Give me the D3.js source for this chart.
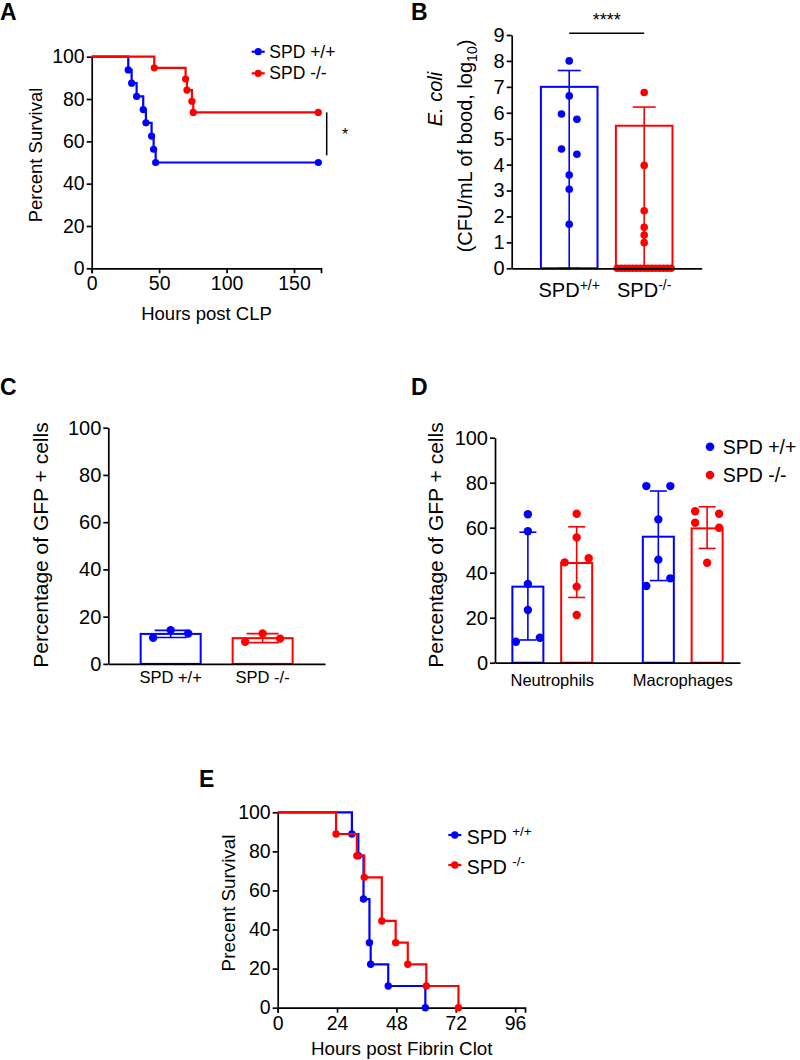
<!DOCTYPE html>
<html><head><meta charset="utf-8">
<script src="https://cdn.jsdelivr.net/npm/d3@7"></script>
<style>
body{margin:0;background:#fff}
</style></head><body><svg id="c" width="800" height="1060"></svg>
<script>
// ================= DATA =================
const seriesNames = ["SPD +/+", "SPD -/-"];
// Panel A: survival after CLP
const aTicksX = [0, 50, 100, 150];
const aTicksY = [0, 20, 40, 60, 80, 100];
const aWtTime = [27.1, 29.6, 33.3, 38.2, 40.2, 44.4, 45.9, 47.4, 168];
const aWtSurv = [93.75, 87.5, 81.25, 75, 68.75, 62.5, 56.25, 50, 50];
const aKoTime = [46.4, 69.6, 70.6, 74.3, 75.3, 168];
const aKoSurv = [94.74, 89.47, 84.21, 78.95, 73.68, 73.68];
const aSigRange = [73.7, 53.4];
// Panel B: E. coli CFU
const bCats = ["+/+", "-/-"];
const bTicksY = [0, 1, 2, 3, 4, 5, 6, 7, 8, 9];
const bMeans = [7.0, 5.5];
const bErrTop = [7.63, 6.22];
const bErrLow = [0, 0];
const bWtVals = [8.0, 6.65, 5.95, 5.75, 4.6, 4.4, 3.6, 3.05, 1.7];
const bWtCols = [0, 0, -2, 2, -2, 2, 0, 0, 0];
const bKoVals = [6.78, 3.97, 2.22, 1.58, 1.28, 0.99, 0, 0, 0, 0, 0, 0, 0, 0, 0, 0, 0, 0, 0, 0, 0];
const bKoCols = [0, 0, 0, 0, 0, 0, -7, -6, -5, -4, -3, -2, -1, 0, 1, 2, 3, 4, 5, 6, 7];
// Panel C: GFP+ cells
const cCats = ["SPD +/+", "SPD -/-"];
const cTicksY = [0, 20, 40, 60, 80, 100];
const cMeans = [12.7, 10.9];
const cSd = [1.5, 1.9];
const cWtVals = [11.1, 14.3, 12.9];
const cKoVals = [9.4, 12.9, 10.7];
const cCols = [-1, 0, 1];
// Panel D: GFP+ by cell type
const dGroups = ["Neutrophils", "Macrophages"];
const dTicksY = [0, 20, 40, 60, 80, 100];
const dWtMeans = [33.8, 56.0];
const dWtLow = [10.1, 36.5];
const dWtHigh = [58.0, 76.3];
const dKoMeans = [44.3, 59.7];
const dKoLow = [29.0, 50.8];
const dKoHigh = [60.4, 69.3];
const dWtNeuVals = [66.0, 58.4, 35.0, 23.4, 9.3, 11.1];
const dWtNeuCols = [0, 0, 0, 0, -1, 1];
const dWtMacVals = [78.5, 78.5, 63.7, 45.8, 34.1, 37.5];
const dWtMacCols = [-1, 1, 0, 0, -1, 1];
const dKoNeuVals = [66.2, 55.7, 44.6, 46.4, 33.8, 21.2];
const dKoNeuCols = [0, 0, -1, 1, 0, 0];
const dKoMacVals = [67.3, 66.2, 62.2, 60.0, 44.4];
const dKoMacCols = [-1, 1, -1, 1, 0];
// Panel E: survival after fibrin clot
const eTicksX = [0, 24, 48, 72, 96];
const eTicksY = [0, 20, 40, 60, 80, 100];
const eWtTime = [30, 32.6, 34.7, 37.1, 37.6, 44.7, 59.7];
const eWtSurv = [88.9, 77.8, 55.6, 33.3, 22.2, 11.1, 0];
const eKoTime = [23.6, 32, 35, 42.1, 47.7, 52.6, 60.1, 73.1];
const eKoSurv = [88.9, 77.8, 66.7, 44.4, 33.3, 22.2, 11.1, 0];

// ================= STYLE =================
const FONT = '"Liberation Sans", Arial, Helvetica, sans-serif';
const BLUE = "#0000ff", RED = "#ff0000";
const svg = d3.select("#c");

function styleAxis(g, fs) {
  g.attr("font-family", FONT).attr("font-size", fs);
  g.selectAll("path,line").attr("stroke", "#000").attr("stroke-width", 1.7);
  g.selectAll("text").attr("fill", "#000");
}
function yAxis(scale, ticks, x, fs) {
  const g = svg.append("g").attr("transform", `translate(${x},0)`)
    .call(d3.axisLeft(scale).tickValues(ticks).tickSize(5).tickPadding(2).tickSizeOuter(0));
  styleAxis(g, fs);
  return g;
}
function xAxis(scale, ticks, y, fs, tsize) {
  const ax = d3.axisBottom(scale).tickSizeOuter(0).tickSize(tsize).tickPadding(3);
  if (ticks) ax.tickValues(ticks); else ax.tickFormat("");
  const g = svg.append("g").attr("transform", `translate(0,${y})`).call(ax);
  styleAxis(g, fs);
  return g;
}
function txt(x, y, s, fs, opts = {}) {
  const t = svg.append("text").attr("x", x).attr("y", y).text(s)
    .attr("font-family", FONT).attr("font-size", fs).attr("fill", "#000")
    .attr("text-anchor", opts.anchor || "start");
  if (opts.weight) t.attr("font-weight", opts.weight);
  if (opts.rotate) t.attr("transform", `rotate(-90,${x},${y})`);
  if (opts.style) t.attr("font-style", opts.style);
  return t;
}
function survival(x, y, times, surv, color, r) {
  const pts = [[0, 100]].concat(times.map((t, i) => [t, surv[i]]));
  svg.append("path").attr("d", d3.line().x(d => x(d[0])).y(d => y(d[1])).curve(d3.curveStepAfter)(pts))
    .attr("fill", "none").attr("stroke", color).attr("stroke-width", 2.2);
  svg.append("g").selectAll("circle").data(times).join("circle")
    .attr("cx", d => x(d)).attr("cy", (d, i) => y(surv[i])).attr("r", r).attr("fill", color);
}
function legendLine(x, y, color, r) {
  svg.append("line").attr("x1", x).attr("x2", x + 13).attr("y1", y).attr("y2", y)
    .attr("stroke", color).attr("stroke-width", 2.2);
  svg.append("circle").attr("cx", x + 6.5).attr("cy", y).attr("r", r).attr("fill", color);
}
function bar(cx, w, y, mean, color, sw) {
  svg.append("rect").attr("x", cx - w / 2).attr("y", y(mean)).attr("width", w)
    .attr("height", y(0) - y(mean)).attr("fill", "none").attr("stroke", color).attr("stroke-width", sw);
}
function errBar(cx, y, lo, hi, cap, color, showLow) {
  svg.append("line").attr("x1", cx).attr("x2", cx).attr("y1", y(lo)).attr("y2", y(hi))
    .attr("stroke", color).attr("stroke-width", 1.6);
  svg.append("line").attr("x1", cx - cap / 2).attr("x2", cx + cap / 2).attr("y1", y(hi)).attr("y2", y(hi))
    .attr("stroke", color).attr("stroke-width", 1.6);
  if (showLow) svg.append("line").attr("x1", cx - cap / 2).attr("x2", cx + cap / 2).attr("y1", y(lo)).attr("y2", y(lo))
    .attr("stroke", color).attr("stroke-width", 1.6);
}
function dots(cx, y, vals, cols, step, r, color) {
  svg.append("g").selectAll("circle").data(vals).join("circle")
    .attr("cx", (d, i) => cx + cols[i] * step).attr("cy", d => y(d)).attr("r", r).attr("fill", color);
}

// ================= PANEL A =================
{
  const x = d3.scaleLinear().domain([0, 170]).range([91.7, 321]);
  const y = d3.scaleLinear().domain([0, 100]).range([268.3, 56.7]);
  xAxis(x, aTicksX, 268.3, 19.5, 5);
  yAxis(y, aTicksY, 91.7, 19.5);
  survival(x, y, aWtTime, aWtSurv, BLUE, 3.6);
  survival(x, y, aKoTime, aKoSurv, RED, 3.6);
  svg.append("line").attr("x1", 326.7).attr("x2", 326.7).attr("y1", y(aSigRange[0])).attr("y2", y(aSigRange[1]))
    .attr("stroke", "#000").attr("stroke-width", 1.5);
  txt(345, 140, "*", 16, { anchor: "middle" });
  legendLine(251.7, 51.7, BLUE, 3.6);
  txt(269.3, 57.6, seriesNames[0], 17.5);
  legendLine(251.7, 73.3, RED, 3.6);
  txt(269.3, 79.2, seriesNames[1], 17.5);
  txt(41.7, 155, "Percent Survival", 18.5, { anchor: "middle", rotate: true });
  txt(206.5, 320, "Hours post CLP", 18.5, { anchor: "middle" });
  txt(0, 20, "A", 23, { weight: "bold" });
}

// ================= PANEL B =================
{
  const y = d3.scaleLinear().domain([0, 9]).range([268.3, 35]);
  const x = d3.scalePoint().domain(bCats).range([511.7, 701.7]).padding(0.767);
  const w = 56.6;
  bCats.forEach((c, i) => {
    const col = i === 0 ? BLUE : RED;
    bar(x(c), w, y, bMeans[i], col, 2);
    errBar(x(c), y, bErrLow[i], bErrTop[i], 23, col, true);
  });
  dots(x(bCats[0]), y, bWtVals, bWtCols, 3.85, 3.8, BLUE);
  dots(x(bCats[1]), y, bKoVals, bKoCols, 3.85, 3.8, RED);
  xAxis(x, null, 268.3, 18, 0);
  yAxis(y, bTicksY, 511.7, 20);
  bCats.forEach(c => {
    const t = txt(x(c), 296.7, "SPD", 20, { anchor: "middle" });
    t.append("tspan").attr("dy", -7).attr("font-size", 14).text(c);
  });
  svg.append("line").attr("x1", x(bCats[0])).attr("x2", x(bCats[1])).attr("y1", 33.3).attr("y2", 33.3)
    .attr("stroke", "#000").attr("stroke-width", 1.6);
  txt((x(bCats[0]) + x(bCats[1])) / 2, 26, "****", 18, { anchor: "middle" });
  txt(442, 99, "E. coli", 20, { anchor: "middle", rotate: true, style: "italic" });
  const t2 = txt(472, 146, "(CFU/mL of bood, log", 20, { anchor: "middle", rotate: true });
  t2.append("tspan").attr("dy", 5).attr("font-size", 14).text("10");
  t2.append("tspan").attr("dy", -5).text(")");
  txt(411, 20, "B", 23, { weight: "bold" });
}

// ================= PANEL C =================
{
  const y = d3.scaleLinear().domain([0, 100]).range([663.9, 427.7]);
  const x = d3.scalePoint().domain(cCats).range([108.3, 325]).padding(0.678);
  const w = 60;
  const vals = [cWtVals, cKoVals];
  cCats.forEach((c, i) => {
    const col = i === 0 ? BLUE : RED;
    bar(x(c), w, y, cMeans[i], col, 2);
    errBar(x(c), y, cMeans[i] - cSd[i], cMeans[i] + cSd[i], 32, col, true);
    dots(x(c), y, vals[i], cCols, 17.5, 4.2, col);
  });
  xAxis(x, null, 663.9, 16, 0);
  yAxis(y, cTicksY, 108.3, 20);
  cCats.forEach(c => txt(x(c), 683, c, 16.5, { anchor: "middle" }));
  txt(48, 545, "Percentage of GFP + cells", 21, { anchor: "middle", rotate: true });
  txt(0, 395, "C", 23, { weight: "bold" });
}

// ================= PANEL D =================
{
  const y = d3.scaleLinear().domain([0, 100]).range([662.7, 437.7]);
  const xg = d3.scalePoint().domain(dGroups).range([495, 740]).padding(0.439);
  const xs = d3.scalePoint().domain(seriesNames).range([-24.4, 24.4]);
  const w = 31;
  const wtPts = [[dWtNeuVals, dWtNeuCols], [dWtMacVals, dWtMacCols]];
  const koPts = [[dKoNeuVals, dKoNeuCols], [dKoMacVals, dKoMacCols]];
  dGroups.forEach((g, i) => {
    const cw = xg(g) + xs(seriesNames[0]), ck = xg(g) + xs(seriesNames[1]);
    bar(cw, w, y, dWtMeans[i], BLUE, 2);
    errBar(cw, y, dWtLow[i], dWtHigh[i], 17, BLUE, true);
    dots(cw, y, wtPts[i][0], wtPts[i][1], 12, 4.2, BLUE);
    bar(ck, w, y, dKoMeans[i], RED, 2);
    errBar(ck, y, dKoLow[i], dKoHigh[i], 17, RED, true);
    dots(ck, y, koPts[i][0], koPts[i][1], 12, 4.2, RED);
  });
  xAxis(xg, null, 662.7, 16, 0);
  yAxis(y, dTicksY, 495, 20);
  dGroups.forEach(g => txt(xg(g), 686, g, 16.5, { anchor: "middle" }));
  svg.append("circle").attr("cx", 710).attr("cy", 446.7).attr("r", 4.3).attr("fill", BLUE);
  txt(722.7, 453.5, seriesNames[0], 19.5);
  svg.append("circle").attr("cx", 710).attr("cy", 475).attr("r", 4.3).attr("fill", RED);
  txt(722.7, 481.8, seriesNames[1], 19.5);
  txt(443, 545, "Percentage of GFP + cells", 21, { anchor: "middle", rotate: true });
  txt(411, 395, "D", 23, { weight: "bold" });
}

// ================= PANEL E =================
{
  const x = d3.scaleLinear().domain([0, 100]).range([277.7, 525]);
  const y = d3.scaleLinear().domain([0, 100]).range([1007.7, 812.3]);
  xAxis(x, eTicksX, 1007.7, 19.5, 5);
  yAxis(y, eTicksY, 277.7, 19.5);
  survival(x, y, eWtTime, eWtSurv, BLUE, 3.7);
  survival(x, y, eKoTime, eKoSurv, RED, 3.7);
  legendLine(448.3, 835, BLUE, 3.7);
  const l1 = txt(466.7, 844, "SPD ", 19.5);
  l1.append("tspan").attr("dy", -8).attr("font-size", 13.5).text("+/+");
  legendLine(448.3, 865, RED, 3.7);
  const l2 = txt(466.7, 874, "SPD ", 19.5);
  l2.append("tspan").attr("dy", -8).attr("font-size", 13.5).text("-/-");
  txt(235, 903, "Precent Survival", 18.8, { anchor: "middle", rotate: true });
  txt(401.7, 1055, "Hours post Fibrin Clot", 18.8, { anchor: "middle" });
  txt(199, 787, "E", 23, { weight: "bold" });
}
</script></body></html>
